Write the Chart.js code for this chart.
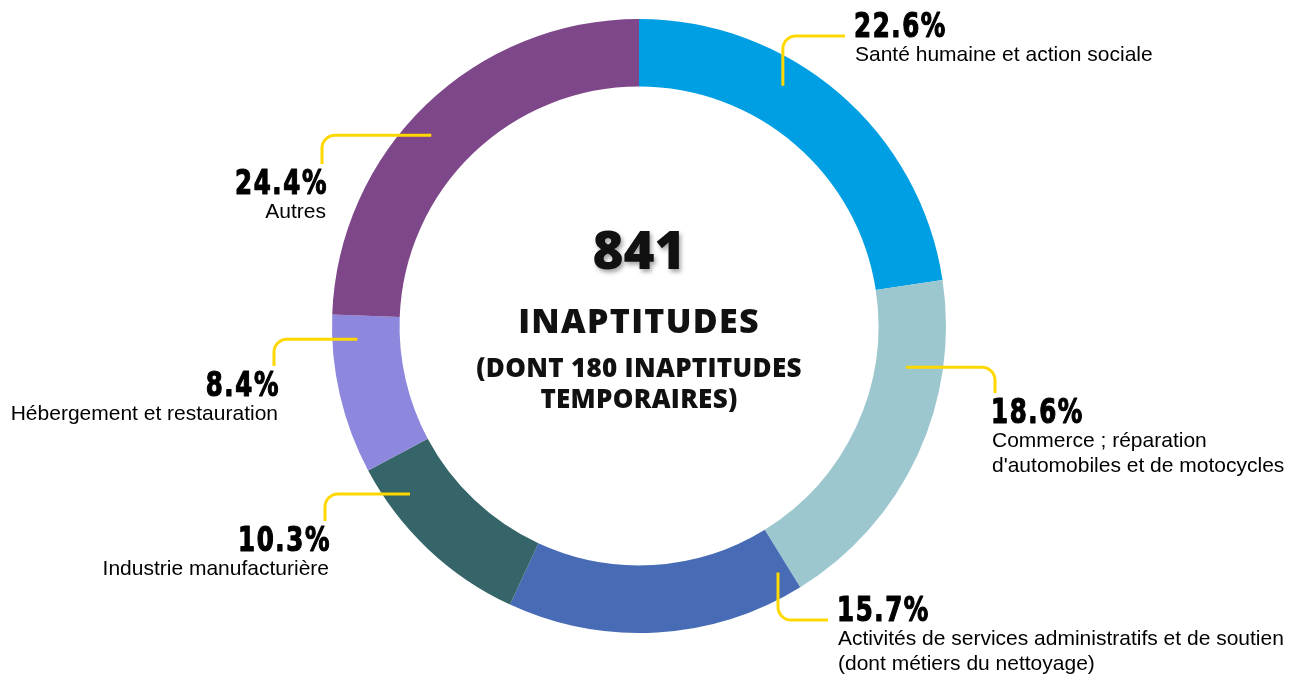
<!DOCTYPE html>
<html>
<head>
<meta charset="utf-8">
<script src="https://cdn.jsdelivr.net/npm/chart.js@4.4.1/dist/chart.umd.min.js"></script>
<style>
  html, body { margin: 0; padding: 0; background: #fff; }
  #wrap { width: 1296px; height: 675px; }
</style>
</head>
<body>
<div id="wrap"><canvas id="myChart" width="1296" height="675"></canvas></div>
<script>
// data
const categories = [
    'Santé humaine et action sociale',
    'Commerce ; réparation d\'automobiles et de motocycles',
    'Activités de services administratifs et de soutien (dont métiers du nettoyage)',
    'Industrie manufacturière',
    'Hébergement et restauration',
    'Autres'
];
const labelLines = [
    ['Santé humaine et action sociale'],
    ['Commerce ; réparation', 'd\'automobiles et de motocycles'],
    ['Activités de services administratifs et de soutien', '(dont métiers du nettoyage)'],
    ['Industrie manufacturière'],
    ['Hébergement et restauration'],
    ['Autres']
];
const shares = [22.6, 18.6, 15.7, 10.3, 8.4, 24.4];
const sliceColors = ['#009fe3', '#9dc7cf', '#476bb5', '#356569', '#8d87dd', '#7d4789'];
const centerLines = ['841', 'INAPTITUDES', '(DONT 180 INAPTITUDES', 'TEMPORAIRES)'];

// callout layout: where the yellow line leaves the slice (fraction of the slice angle),
// which way it bends, and where the text sits (offsets from the chart centre)
const callouts = [
    { frac: 0.38, rad: 280, bend: 'vh', end: [206, -290], side: 'left' },
    { frac: 0.26, rad: 270, bend: 'hv', end: [356, 67], side: 'left' },
    { frac: 0.04, rad: 283, bend: 'vh', end: [189, 294], side: 'left' },
    { frac: 0.78, rad: 284, bend: 'hv', end: [-314, 195], side: 'right' },
    { frac: 0.84, rad: 282, bend: 'hv', end: [-365, 40], side: 'right' },
    { frac: 0.46, rad: 282, bend: 'hv', end: [-317, -162], side: 'right' }
];

const numFont = 'bold condensed 34px "DejaVu Sans", sans-serif';
const txtFont = '21px "Liberation Sans", Arial, sans-serif';
const centerFamily = '"Open Sans", Inter, sans-serif';

const calloutPlugin = {
    id: 'callouts',
    afterDraw(chart) {
        const ctx = chart.ctx;
        const arcs = chart.getDatasetMeta(0).data;
        ctx.save();
        arcs.forEach((arc, i) => {
            const c = callouts[i];
            const cx = arc.x, cy = arc.y;
            const a = arc.startAngle + (arc.endAngle - arc.startAngle) * c.frac;
            const sx = cx + Math.cos(a) * c.rad;
            const sy = cy + Math.sin(a) * c.rad;
            const ex = cx + c.end[0];
            const ey = cy + c.end[1];

            // yellow connector with a rounded elbow
            ctx.strokeStyle = '#ffd800';
            ctx.lineWidth = 3;
            ctx.lineCap = 'butt';
            ctx.beginPath();
            ctx.moveTo(sx, sy);
            if (c.bend === 'vh') {
                ctx.arcTo(sx, ey, ex, ey, 13);
            } else {
                ctx.arcTo(ex, sy, ex, ey, 13);
            }
            ctx.lineTo(ex, ey);
            ctx.stroke();

            // number + description
            let tx, ty;
            if (c.bend === 'vh') {
                tx = ex + 9;
                ty = ey + 1;
            } else {
                tx = c.side === 'left' ? ex - 4 : ex + 6;
                ty = ey + 30;
            }
            ctx.fillStyle = '#000';
            ctx.textAlign = c.side;
            ctx.textBaseline = 'alphabetic';

            // condensed heavy figures: squeeze horizontally, thicken a bit
            ctx.save();
            ctx.translate(tx, ty);
            ctx.scale(0.8, 1);
            ctx.font = numFont;
            ctx.fontStretch = 'condensed';
            ctx.letterSpacing = '2px';
            ctx.strokeStyle = '#000';
            ctx.lineWidth = 1.2;
            ctx.lineJoin = 'round';
            ctx.fillText(shares[i].toFixed(1) + '%', 0, 0);
            ctx.strokeText(shares[i].toFixed(1) + '%', 0, 0);
            ctx.restore();

            ctx.font = txtFont;
            ctx.letterSpacing = '0px';
            labelLines[i].forEach((line, k) => {
                ctx.fillText(line, tx + (c.side === 'left' ? 1 : -2), ty + 24 + k * 25);
            });
        });

        // centre text
        const cx = arcs[0].x, cy = arcs[0].y;
        ctx.textAlign = 'center';
        ctx.fillStyle = '#111';
        ctx.shadowColor = 'rgba(0,0,0,0.35)';
        ctx.shadowBlur = 4;
        ctx.shadowOffsetX = 2;
        ctx.shadowOffsetY = 3;
        ctx.font = '800 53px ' + centerFamily;
        ctx.letterSpacing = '0px';
        ctx.fillText(centerLines[0], cx, cy - 57);
        ctx.shadowColor = 'transparent';
        ctx.font = '800 34px ' + centerFamily;
        ctx.letterSpacing = '1.3px';
        ctx.fillText(centerLines[1], cx, cy + 7);
        ctx.font = '800 26px ' + centerFamily;
        ctx.letterSpacing = '0.3px';
        ctx.fillText(centerLines[2], cx, cy + 51);
        ctx.fillText(centerLines[3], cx, cy + 82);
        ctx.restore();
    }
};

const ctx = document.getElementById('myChart').getContext('2d');
new Chart(ctx, {
    type: 'doughnut',
    data: {
        labels: categories,
        datasets: [{
            data: shares,
            backgroundColor: sliceColors,
            borderWidth: 0,
            hoverOffset: 0
        }]
    },
    options: {
        responsive: false,
        animation: false,
        cutout: '78%',
        layout: { padding: { top: 19, bottom: 42, left: 0, right: 18 } },
        plugins: {
            legend: { display: false },
            tooltip: { enabled: false }
        }
    },
    plugins: [calloutPlugin]
});
</script>
</body>
</html>
